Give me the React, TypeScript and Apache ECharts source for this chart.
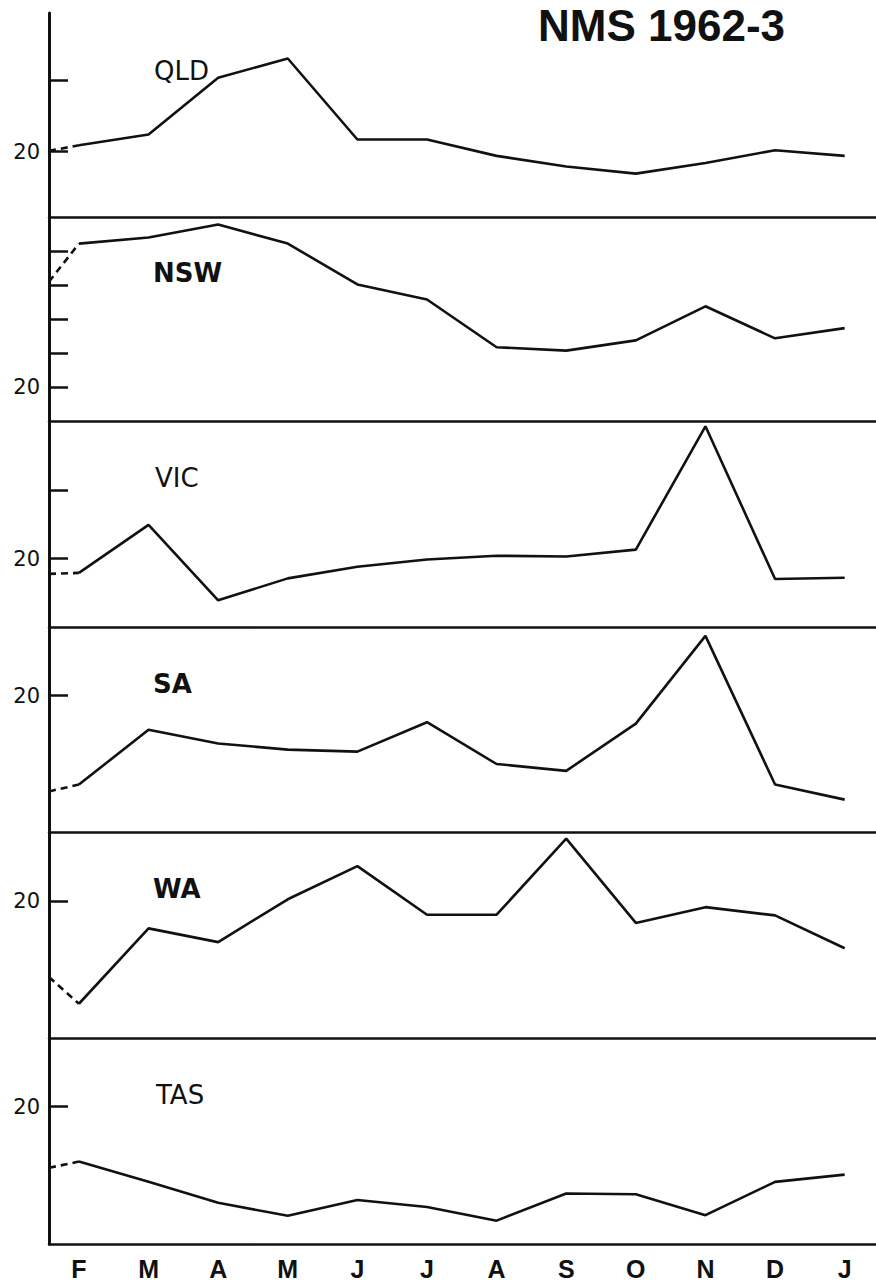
import React, { useEffect, useRef } from 'react';
import * as echarts from 'echarts';

// ---- data ----
const MONTHS = ['F', 'M', 'A', 'M', 'J', 'J', 'A', 'S', 'O', 'N', 'D', 'J'];
const MONTH_X = [1, 2, 3, 4, 5, 6, 7, 8, 9, 10, 11, 12];
const STATES = ['QLD', 'NSW', 'VIC', 'SA', 'WA', 'TAS'];

// value at the left axis (previous month, dashed) and monthly values F..J
const QLD_START = 20.1;
const QLD = [20.9, 22.4, 30.4, 33.1, 21.7, 21.7, 19.4, 17.9, 16.9, 18.4, 20.2, 19.4];
const NSW_START = 35.5;
const NSW = [41.1, 42.0, 43.9, 41.1, 35.1, 32.9, 25.9, 25.4, 26.9, 31.9, 27.2, 28.7];
const VIC_START = 17.75;
const VIC = [17.9, 24.9, 13.9, 17.1, 18.8, 19.85, 20.4, 20.3, 21.3, 39.3, 17.0, 17.2];
const SA_START = 6.0;
const SA = [7.0, 15.0, 13.0, 12.1, 11.8, 16.1, 10.0, 9.0, 15.9, 28.7, 7.0, 4.8];
const WA_START = 8.9;
const WA = [5.0, 16.0, 14.0, 20.25, 25.1, 18.0, 18.0, 29.1, 16.8, 19.1, 17.9, 13.1];
const TAS_START = 11.1;
const TAS = [12.0, 9.05, 6.0, 4.1, 6.4, 5.4, 3.4, 7.35, 7.25, 4.2, 9.05, 10.1];

const STARTS = [QLD_START, NSW_START, VIC_START, SA_START, WA_START, TAS_START];
const VALUES = [QLD, NSW, VIC, SA, WA, TAS];

// axis ranges and ticks
const Y_MIN = [10.8, 15, 10, 0, 0, 0];
const Y_MAX = [39.5, 45, 40, 30, 30, 30];
const Y_TICKS = [[20, 30], [20, 25, 30, 35, 40], [20, 30], [20], [20], [20]];
const Y_LABELS = [20];
const X_MIN = 0.57;
const X_MAX = 12.45;

const TITLE = 'NMS 1962-3';

// ---- layout ----
const PANEL_TOP = [13, 217, 421.5, 627, 832.5, 1038];
const PANEL_BOTTOM = 1244;
const LEFT = 49;
const LABEL_POS = [
  [154, 71],
  [153, 273],
  [155, 477.5],
  [153, 684],
  [153, 889],
  [156, 1095],
];
const LABEL_BOLD = [false, true, false, true, true, false];
const FONT = '"Liberation Sans", Arial, sans-serif';
const FONT_WIDE = '"DejaVu Sans", Verdana, sans-serif';
const INK = '#111';

export default function App() {
  const ref = useRef<HTMLDivElement>(null);

  useEffect(() => {
    const chart = echarts.init(ref.current as HTMLDivElement, null, { renderer: 'svg' });

    const grids: any[] = [];
    const xAxes: any[] = [];
    const yAxes: any[] = [];
    const series: any[] = [];

    STATES.forEach((name, i) => {
      const top = PANEL_TOP[i];
      const bottom = i < 5 ? PANEL_TOP[i + 1] : PANEL_BOTTOM;
      grids.push({ left: LEFT, right: 0, top, height: bottom - top });
      const isLast = i === STATES.length - 1;
      xAxes.push({
        type: 'value',
        gridIndex: i,
        min: X_MIN,
        max: X_MAX,
        position: 'bottom',
        axisLine: { show: true, onZero: false, lineStyle: { color: INK, width: 2.5 } },
        axisTick: { show: false },
        splitLine: { show: false },
        axisLabel: isLast
          ? {
              show: true,
              customValues: MONTH_X,
              formatter: (v: number) => MONTHS[Math.round(v) - 1] ?? '',
              fontSize: 25,
              fontWeight: 'bold',
              fontFamily: FONT,
              color: INK,
              margin: 12,
            }
          : { show: false },
      });
      yAxes.push({
        type: 'value',
        gridIndex: i,
        min: Y_MIN[i],
        max: Y_MAX[i],
        axisLine: { show: true, lineStyle: { color: INK, width: 3 } },
        axisTick: {
          show: true,
          inside: true,
          length: 19,
          customValues: Y_TICKS[i],
          lineStyle: { color: INK, width: 2.5 },
        },
        axisLabel: {
          show: true,
          customValues: Y_LABELS,
          fontSize: 21,
          fontFamily: FONT_WIDE,
          color: INK,
          margin: 9,
        },
        splitLine: { show: false },
      });
      series.push({
        type: 'line',
        name: name,
        xAxisIndex: i,
        yAxisIndex: i,
        data: MONTH_X.map((x, k) => [x, VALUES[i][k]]),
        symbol: 'none',
        lineStyle: { color: INK, width: 2.6 },
        clip: false,
        z: 3,
      });
      series.push({
        type: 'line',
        name: name + ' prev',
        xAxisIndex: i,
        yAxisIndex: i,
        data: [
          [X_MIN, STARTS[i]],
          [MONTH_X[0], VALUES[i][0]],
        ],
        symbol: 'none',
        lineStyle: { color: INK, width: 2.6, type: [7, 5] },
        clip: false,
        z: 3,
      });
    });

    const graphics: any[] = STATES.map((name, i) => ({
      type: 'text',
      x: LABEL_POS[i][0],
      y: LABEL_POS[i][1],
      style: {
        text: name,
        fontSize: 26,
        fontWeight: LABEL_BOLD[i] ? 'bold' : 'normal',
        fontFamily: FONT_WIDE,
        fill: INK,
        textAlign: 'left',
        textVerticalAlign: 'middle',
      },
    }));
    graphics.push({
      type: 'text',
      x: 538,
      y: 25,
      style: {
        text: TITLE,
        fontSize: 44,
        fontWeight: 'bold',
        fontFamily: FONT,
        fill: INK,
        textAlign: 'left',
        textVerticalAlign: 'middle',
      },
    });

    chart.setOption({
      animation: false,
      backgroundColor: '#fff',
      grid: grids,
      xAxis: xAxes,
      yAxis: yAxes,
      series,
      graphic: graphics,
    });

    return () => chart.dispose();
  }, []);

  return (
    <div
      ref={ref}
      style={{ position: 'absolute', left: 0, top: 0, width: 876, height: 1285, background: '#fff' }}
    />
  );
}
